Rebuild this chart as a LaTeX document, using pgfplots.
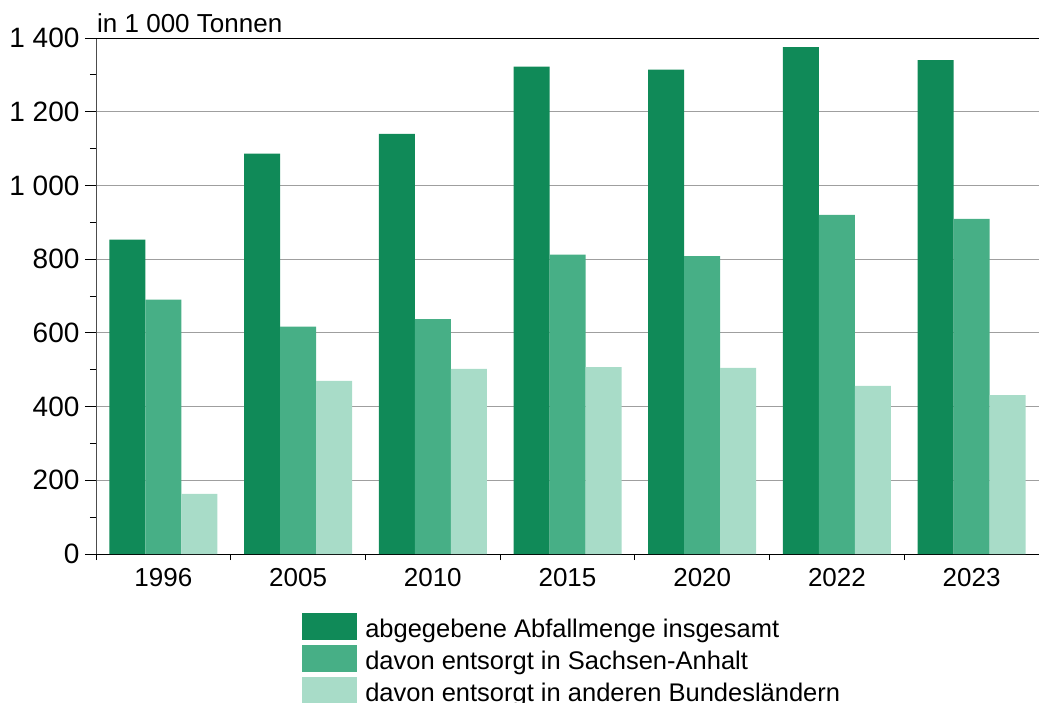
\documentclass[border=0pt]{standalone}
\usepackage{fontspec}
\setmainfont{Liberation Sans}
\usepackage{pgfplots}
\pgfplotsset{compat=1.18}
\definecolor{c1}{HTML}{108A58}
\definecolor{c2}{HTML}{47AF86}
\definecolor{c3}{HTML}{A8DCC8}
\begin{document}
\begin{tikzpicture}[x=1pt,y=1pt]
\useasboundingbox (0,0) rectangle (1039,702);
\begin{axis}[
  at={(96pt,148pt)}, anchor=south west,
  scale only axis, width=943pt, height=516pt,
  xmin=-0.5, xmax=6.5, ymin=0, ymax=1400,
  ybar=0pt, bar width=36pt,
  axis x line*=bottom, axis y line*=left,
  axis line style={-, line width=0.8pt},
  y axis line style={gray!60!black},
  xtick={0,...,6}, xticklabels={1996,2005,2010,2015,2020,2022,2023},
  minor xtick={-0.5,0.5,...,6.5},
  major x tick style={draw=none},
  ytick={0,200,...,1400}, minor ytick={100,300,...,1300},
  tick align=outside, major tick length=11pt, minor tick length=6pt,
  tick style={line width=0.8pt, black},
  ymajorgrids, grid style={gray!75, line width=0.8pt},
  xticklabel style={font=\fontsize{26}{30}\selectfont},
  yticklabel style={font=\fontsize{28}{33}\selectfont, xshift=-2pt},
  /pgf/number format/.cd, 1000 sep={\ }, assume math mode=true, /pgfplots/.cd,
  clip=false,
  legend style={at={(axis description cs:0.2185,-0.1143)}, anchor=north west,
    draw=none, fill=none, inner sep=0pt, row sep=5pt, column sep=8pt,
    font=\fontsize{25.5}{30}\selectfont,
    nodes={inner sep=0pt, text height=24pt, text depth=3pt}},
  legend cell align=left,
  legend image code/.code={\fill[#1] (0pt,-13.5pt) rectangle (55pt,13.5pt);},
]
\addplot[fill=c1, draw=none] coordinates {(0,853) (1,1086) (2,1140) (3,1322) (4,1314) (5,1375) (6,1340)};
\addplot[fill=c2, draw=none] coordinates {(0,690) (1,617) (2,637) (3,812) (4,808) (5,920) (6,909)};
\addplot[fill=c3, draw=none] coordinates {(0,163) (1,470) (2,502) (3,507) (4,505) (5,456) (6,431)};
\addlegendentry{abgegebene Abfallmenge insgesamt}
\addlegendentry{davon entsorgt in Sachsen-Anhalt}
\addlegendentry{davon entsorgt in anderen Bundesländern}
\draw[black, line width=0.8pt] (axis cs:-0.5,1400) -- (axis cs:6.5,1400);
\node[anchor=base west, inner sep=0pt, font=\fontsize{26}{30}\selectfont] at ([xshift=1pt,yshift=5pt]rel axis cs:0,1) {in 1 000 Tonnen};
\end{axis}
\end{tikzpicture}
\end{document}
